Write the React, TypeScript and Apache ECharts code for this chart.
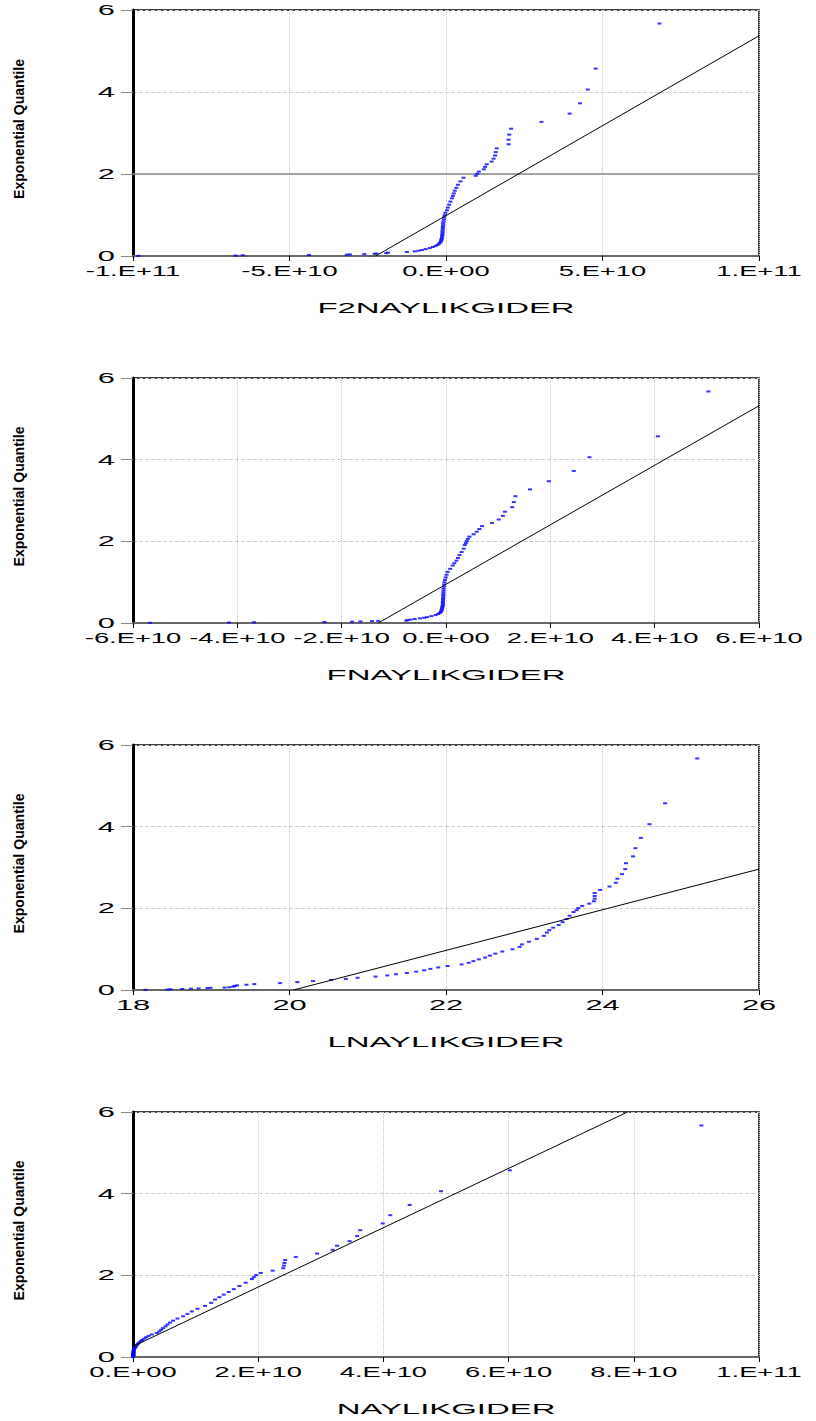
import React, { useEffect, useRef } from 'react';
import * as echarts from 'echarts';

// Exponential quantiles (y) shared by all four panels (selected ranks of 145 obs.)
const quantiles = [
  0.0035, 0.0104, 0.0174, 0.0244, 0.0315, 0.0387, 0.0459, 0.0531, 0.0604, 0.0678,
  0.0826, 0.0977, 0.1131, 0.1286, 0.1444,
  0.1686, 0.1934, 0.2188, 0.2449, 0.2717, 0.2992, 0.3275, 0.3567, 0.3867, 0.4176,
  0.4495, 0.4825, 0.5166, 0.5519, 0.5885, 0.6264, 0.6659, 0.707, 0.7499, 0.7947,
  0.8416, 0.8908, 0.9424, 0.9971, 1.0547, 1.116, 1.1812, 1.251, 1.3261, 1.4072,
  1.4652, 1.5267, 1.5923, 1.6625, 1.738, 1.8197, 1.9087,
  1.9563, 2.0063, 2.0589, 2.1145, 2.1733, 2.2359, 2.3026, 2.374, 2.451, 2.5344,
  2.6254, 2.7255, 2.8367, 2.9618, 3.1049, 3.272, 3.4727, 3.7239, 4.0604, 4.5713, 5.6699,
];

const f2nX = [
  -9.83e10, -6.72e10, -6.49e10, -4.38e10, -3.17e10, -3.07e10, -2.61e10, -2.28e10, -2.22e10, -1.91e10,
  -1.85e10, -1.25e10, -1.0e10, -0.88e10, -0.77e10,
  -0.65e10, -0.52e10, -0.42e10, -0.33e10, -0.27e10, -0.22e10, -0.19e10, -0.16e10, -0.15e10, -0.14e10,
  -0.13e10, -0.12e10, -0.12e10, -0.11e10, -0.11e10, -0.11e10, -0.10e10, -0.10e10, -0.09e10, -0.09e10,
  -0.08e10, -0.07e10, -0.06e10, -0.04e10, -0.02e10, 0.03e10, 0.06e10, 0.10e10, 0.14e10, 0.19e10,
  0.22e10, 0.25e10, 0.28e10, 0.33e10, 0.38e10, 0.46e10, 0.56e10,
  0.95e10, 1.0e10, 1.05e10, 1.21e10, 1.25e10, 1.3e10, 1.46e10, 1.52e10, 1.57e10, 1.59e10,
  1.62e10, 2.0e10, 2.0e10, 2.02e10, 2.08e10, 3.05e10, 3.95e10, 4.28e10, 4.53e10, 4.78e10, 6.82e10,
];

const fnX = [
  -5.67e10, -4.16e10, -3.68e10, -2.33e10, -1.8e10, -1.64e10, -1.42e10, -1.3e10, -0.76e10, -0.74e10,
  -0.68e10, -0.6e10, -0.5e10, -0.42e10, -0.36e10,
  -0.28e10, -0.2e10, -0.15e10, -0.12e10, -0.1e10, -0.09e10, -0.08e10, -0.075e10, -0.07e10, -0.065e10,
  -0.06e10, -0.06e10, -0.06e10, -0.058e10, -0.056e10, -0.054e10, -0.052e10, -0.05e10, -0.05e10, -0.048e10,
  -0.045e10, -0.04e10, -0.035e10, -0.03e10, -0.02e10, -0.005e10, 0.01e10, 0.03e10, 0.08e10, 0.13e10,
  0.16e10, 0.2e10, 0.23e10, 0.26e10, 0.3e10, 0.34e10, 0.36e10,
  0.38e10, 0.4e10, 0.42e10, 0.45e10, 0.53e10, 0.59e10, 0.64e10, 0.69e10, 0.88e10, 1.01e10,
  1.09e10, 1.13e10, 1.27e10, 1.3e10, 1.33e10, 1.61e10, 1.97e10, 2.45e10, 2.75e10, 4.06e10, 5.03e10,
];

const lnX = [
  18.16, 18.44, 18.48, 18.63, 18.74, 18.84, 18.95, 18.99, 19.17, 19.23,
  19.28, 19.3, 19.33, 19.45, 19.55,
  19.88, 20.1, 20.3, 20.53, 20.72, 20.87, 21.1, 21.25, 21.36, 21.5,
  21.62, 21.72, 21.8, 21.9, 22.02, 22.2, 22.29, 22.35, 22.42, 22.5,
  22.56, 22.63, 22.72, 22.85, 22.94, 22.97, 23.06, 23.16, 23.25, 23.29,
  23.32, 23.37, 23.44, 23.49, 23.54, 23.58, 23.63,
  23.67, 23.69, 23.74, 23.83, 23.89, 23.9, 23.9, 23.9, 23.97, 24.09,
  24.17, 24.19, 24.25, 24.29, 24.3, 24.39, 24.42, 24.49, 24.6, 24.8, 25.21,
];

const nX = [
  0.0, 0.0, 0.001e10, 0.001e10, 0.002e10, 0.003e10, 0.003e10, 0.004e10, 0.004e10, 0.005e10,
  0.006e10, 0.007e10, 0.008e10, 0.009e10, 0.01e10,
  0.012e10, 0.015e10, 0.03e10, 0.04e10, 0.05e10, 0.065e10, 0.08e10, 0.1e10, 0.125e10, 0.145e10,
  0.18e10, 0.21e10, 0.25e10, 0.3e10, 0.38e10, 0.42e10, 0.45e10, 0.48e10, 0.52e10, 0.55e10,
  0.59e10, 0.64e10, 0.71e10, 0.8e10, 0.87e10, 0.94e10, 1.03e10, 1.15e10, 1.25e10, 1.31e10,
  1.38e10, 1.45e10, 1.53e10, 1.61e10, 1.7e10, 1.8e10, 1.9e10,
  1.93e10, 1.97e10, 2.04e10, 2.23e10, 2.4e10, 2.41e10, 2.42e10, 2.43e10, 2.6e10, 2.94e10,
  3.19e10, 3.26e10, 3.46e10, 3.58e10, 3.63e10, 3.99e10, 4.11e10, 4.42e10, 4.92e10, 6.02e10, 9.08e10,
];

// Fitted reference lines: [x, y] end points
const f2nLine = [[-2.25e10, 0], [1e11, 5.37]];
const fnLine = [[-1.3e10, 0], [6e10, 5.32]];
const lnLine = [[20.05, 0], [26, 2.96]];
const nLine = [[0, 0.26], [7.9e10, 6]];

const names = ['F2NAYLIKGIDER', 'FNAYLIKGIDER', 'LNAYLIKGIDER', 'NAYLIKGIDER'];
const xRanges = [
  [-1e11, 1e11, 5e10],
  [-6e10, 6e10, 2e10],
  [18, 26, 2],
  [0, 1e11, 2e10],
];
const yTitle = 'Exponential Quantile';

const FONT = 'Liberation Sans';

const fmtE = (v: number) => {
  if (v === 0) return '0.E+00';
  const e = Math.floor(Math.log10(Math.abs(v)) + 1e-9);
  const m = Math.round(v / Math.pow(10, e));
  return `${m}.E+${String(e).padStart(2, '0')}`;
};

function stretchTexts(root: HTMLElement) {
  const texts = root.querySelectorAll('text');
  texts.forEach((t: any) => {
    const s = (t.textContent || '').trim();
    if (!s) return;
    if (t.getAttribute('textLength') && t.getAttribute('data-st') === s) return;
    t.removeAttribute('textLength');
    let w = 0;
    try { w = t.getComputedTextLength(); } catch (e) { w = 0; }
    if (!(w > 0)) return;
    let target = 0;
    if (s === yTitle) target = 140;
    else if (s.indexOf('NAYLIKGIDER') >= 0) target = w * 2.35;
    else if (s.indexOf('E+') >= 0) target = w * 1.95;
    else target = w * 2.2;
    t.setAttribute('textLength', String(target));
    t.setAttribute('lengthAdjust', 'spacingAndGlyphs');
    t.setAttribute('data-st', s);
  });
}

export default function App() {
  const ref = useRef<HTMLDivElement>(null);
  useEffect(() => {
    if (!ref.current) return;
    const el = ref.current;
    const chart = echarts.init(el, null, { renderer: 'svg' });
    const tops = [10, 378, 745, 1112];
    const heights = [246, 245, 245, 245];
    const xs = [f2nX, fnX, lnX, nX];
    const lines = [f2nLine, fnLine, lnLine, nLine];

    const grid = tops.map((t, i) => ({
      left: 133, width: 626, top: t, height: heights[i],
      show: true, borderColor: '#000', borderWidth: 1.5, backgroundColor: '#fff',
      outerBoundsMode: 'none',
    }));
    const xAxis = xRanges.map((r, i) => ({
      gridIndex: i, type: 'value', min: r[0], max: r[1], interval: r[2],
      name: names[i], nameLocation: 'middle', nameGap: 45,
      nameTextStyle: { color: '#000', fontSize: 14, fontFamily: FONT },
      axisLine: { show: true, onZero: false, lineStyle: { color: '#666', width: 2 } },
      axisTick: { show: true, length: 5, lineStyle: { color: '#000' } },
      axisLabel: {
        color: '#000', fontSize: 14, margin: 8, fontFamily: FONT,
        formatter: i === 2 ? (v: number) => String(v) : fmtE,
      },
      splitLine: { show: true, lineStyle: { color: '#c4c4c4', type: 'dotted', width: 1 } },
    }));
    const yAxis = tops.map((_, i) => ({
      gridIndex: i, type: 'value', min: 0, max: 6, interval: 2,
      axisLine: { show: true, onZero: false, lineStyle: { color: '#000', width: 3 } },
      axisTick: { show: true, length: 12, lineStyle: { color: '#888' } },
      axisLabel: { color: '#000', fontSize: 14, margin: 18, fontFamily: FONT },
      splitLine: { show: true, lineStyle: { color: '#d0d0d0', type: 'dashed', width: 1 } },
    }));
    const series: any[] = [];
    xs.forEach((xv, i) => {
      const s: any = {
        type: 'scatter', xAxisIndex: i, yAxisIndex: i,
        symbol: 'rect', symbolSize: [4, 2],
        itemStyle: { color: '#0000ff' },
        data: quantiles.map((q, k) => [xv[k], q]),
        z: 5, silent: true,
      };
      if (i === 0) {
        s.markLine = {
          silent: true, symbol: 'none', label: { show: false },
          lineStyle: { color: '#8a8a8a', type: 'solid', width: 1.5 },
          data: [{ yAxis: 2 }],
        };
      }
      series.push(s);
      series.push({
        type: 'line', xAxisIndex: i, yAxisIndex: i, data: lines[i],
        symbol: 'none', lineStyle: { color: '#000', width: 1 }, clip: true, z: 6, silent: true,
      });
    });
    const graphic = tops.map((t, i) => ({
      type: 'text', x: 19, y: t + heights[i] / 2 - 4, rotation: Math.PI / 2,
      style: {
        text: yTitle, font: `bold 14px ${FONT}`, fill: '#000',
        textAlign: 'center', textVerticalAlign: 'middle',
      },
    }));
    chart.setOption({
      animation: false,
      backgroundColor: '#fff',
      grid, xAxis, yAxis, series, graphic,
    });
    stretchTexts(el);
    const timers = [200, 600].map((d) => setTimeout(() => stretchTexts(el), d));
    return () => {
      timers.forEach((tm) => clearTimeout(tm));
      chart.dispose();
    };
  }, []);
  return (
    <div
      ref={ref}
      style={{ position: 'absolute', left: 0, top: 0, width: 816, height: 1421, background: '#fff' }}
    />
  );
}
